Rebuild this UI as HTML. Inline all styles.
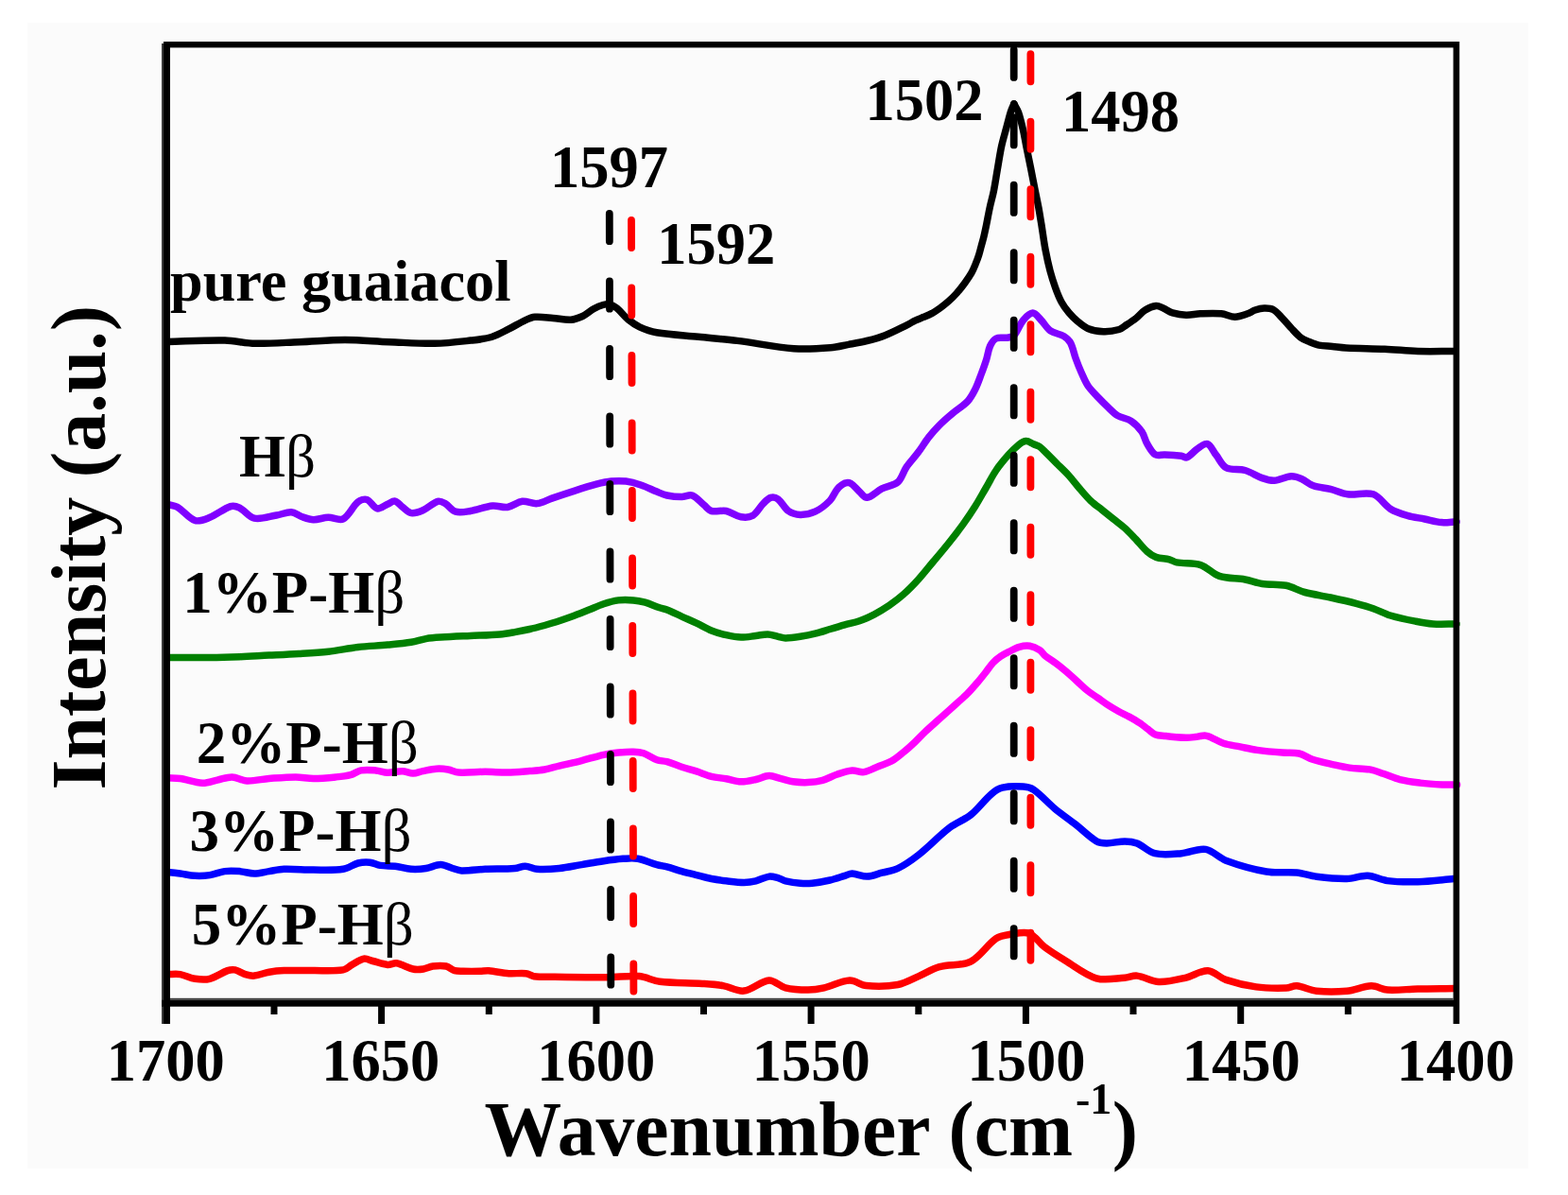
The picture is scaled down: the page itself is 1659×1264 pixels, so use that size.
<!DOCTYPE html>
<html><head><meta charset="utf-8"><style>
html,body{margin:0;padding:0;background:#fff;}
svg{display:block;}
text{font-family:"Liberation Serif","Times New Roman",serif;font-weight:bold;fill:#000;}
.b{font-weight:normal;}
</style></head><body>
<svg width="1659" height="1264" viewBox="0 0 1659 1264">
<rect x="0" y="0" width="1659" height="1264" fill="#fff"/>
<rect x="29" y="24" width="1588" height="1212" fill="#fbfbfb"/>
<g fill="none" stroke-linejoin="round" stroke-linecap="round" stroke-width="7.5">
<path stroke="#000" d="M177,361.5 C197.3,361.0 217.7,359.7 238,360.1 C248.7,360.3 259.3,363.1 270,363.3 C285.6,363.6 301.3,362.3 317,361.7 C333.0,361.1 349.0,359.5 365,359.5 C380.7,359.5 396.3,361.1 412,361.7 C428.0,362.3 444.0,363.6 460,363.3 C472.7,363.1 485.4,361.5 498,360.1 C505.4,359.3 512.9,358.6 520,356.5 C526.3,354.6 532.1,351.1 538,348.2 C544.1,345.2 549.8,341.4 556,338.6 C559.2,337.1 562.6,335.6 566,335.3 C572.2,334.8 578.7,335.9 585,336.4 C591.3,336.9 597.8,338.6 604,338.2 C608.2,337.9 612.5,336.3 616.4,334.5 C620.7,332.4 624.3,328.8 628.5,326.5 C631.5,324.8 634.7,323.4 638,322.5 C640.2,321.9 642.8,321.3 645,321.8 C647.7,322.4 650.4,324.1 652.6,325.9 C657.0,329.5 660.3,334.4 664.7,338 C668.4,341.0 672.4,343.8 676.7,345.8 C682.4,348.4 688.6,350.7 694.8,351.8 C709.3,354.2 724.3,354.8 739,356.3 C752.7,357.7 766.4,358.7 780,360.4 C800.0,362.9 819.9,367.2 840,368.7 C852.8,369.7 865.8,368.8 878.6,367.8 C885.1,367.3 891.5,365.6 897.9,364.4 C904.3,363.2 910.8,362.1 917.1,360.5 C923.6,358.9 930.2,357.2 936.4,354.7 C944.5,351.5 952.2,347.4 960,343.6 C963.0,342.1 965.7,340.2 968.7,338.8 C971.5,337.5 974.5,336.5 977.4,335.3 C980.3,334.1 983.3,332.9 986.1,331.4 C989.1,329.7 992.0,327.7 994.8,325.7 C997.8,323.5 1000.7,321.3 1003.5,318.8 C1006.5,316.1 1009.5,313.2 1012.2,310.1 C1015.3,306.6 1018.2,302.9 1020.9,299.2 C1023.4,295.8 1025.8,292.4 1027.9,288.7 C1029.6,285.7 1030.9,282.4 1032.2,279.2 C1033.5,276.0 1034.7,272.8 1035.7,269.6 C1036.7,266.4 1037.4,263.2 1038.3,260 C1039.2,256.8 1040.1,253.6 1040.9,250.4 C1041.9,246.1 1042.8,241.8 1043.7,237.5 C1044.9,231.6 1045.9,225.6 1047.2,219.7 C1048.5,213.7 1050.2,207.9 1051.4,201.9 C1053.0,194.0 1054.1,186.0 1055.5,178.1 C1056.9,170.2 1058.0,162.2 1059.7,154.4 C1061.0,148.4 1062.8,142.5 1064.4,136.6 C1066.0,130.7 1067.4,124.7 1069.2,118.8 C1070.2,115.7 1071.6,112.8 1072.8,109.8"/>
<path stroke="#000" d="M1072.8,109.8 C1074.4,112.8 1076.4,115.6 1077.5,118.8 C1079.5,124.6 1080.9,130.6 1082.3,136.6 C1083.7,142.5 1084.6,148.5 1085.8,154.4 C1087.4,162.3 1089.0,170.2 1090.6,178.1 C1092.2,186.0 1093.7,194.0 1095.3,201.9 C1096.5,207.8 1097.8,213.7 1098.9,219.7 C1100.0,225.6 1100.9,231.6 1101.9,237.5 C1103.3,246.4 1104.4,255.4 1106.1,264.3 C1107.5,271.7 1109.1,279.1 1111,286.4 C1112.6,292.4 1114.5,298.4 1116.6,304.2 C1118.5,309.5 1120.5,314.8 1123.2,319.7 C1125.3,323.6 1128.1,327.3 1131,330.7 C1133.7,333.9 1136.6,336.9 1139.8,339.6 C1143.3,342.5 1146.8,345.8 1150.9,347.4 C1156.0,349.5 1161.9,350.5 1167.5,350.7 C1173.0,350.9 1178.9,350.0 1184.1,348.5 C1187.0,347.6 1189.4,345.2 1192,343.5 C1195.4,341.3 1198.8,339.1 1202,336.6 C1205.4,333.9 1208.0,330.2 1211.6,328 C1215.1,325.9 1219.3,324.0 1223.2,323.6 C1225.7,323.3 1228.4,325.0 1230.9,326 C1234.2,327.4 1237.1,329.9 1240.5,330.9 C1245.1,332.3 1250.1,333.2 1255,333.3 C1260.0,333.5 1265.0,332.0 1270,331.8 C1277.4,331.5 1284.9,331.1 1292.2,331.8 C1297.1,332.3 1301.8,335.2 1306.6,335.2 C1311.1,335.2 1315.7,333.3 1320.1,331.8 C1322.8,330.9 1325.2,328.9 1327.9,328 C1331.0,327.0 1334.3,326.1 1337.5,326 C1340.7,325.9 1344.4,326.0 1347.1,327.5 C1350.8,329.5 1353.7,333.4 1356.8,336.6 C1360.1,340.0 1363.1,343.8 1366.4,347.3 C1369.5,350.6 1372.5,354.2 1376.1,356.9 C1378.9,359.0 1382.4,360.3 1385.7,361.7 C1388.8,363.0 1392.1,364.4 1395.4,365.1 C1400.1,366.0 1405.0,366.0 1409.8,366.5 C1414.6,367.0 1419.4,367.8 1424.3,368 C1437.8,368.7 1451.4,368.6 1465,369.2 C1476.7,369.7 1488.3,371.1 1500,371.5 C1512.7,371.9 1525.3,371.5 1538,371.5"/>
<path stroke="#8000ff" d="M177,533.5 C180.5,534.4 184.4,534.5 187.5,536.3 C194.2,540.2 199.5,548.3 206.3,550.5 C211.0,552.0 217.1,549.2 222,547.3 C229.6,544.3 236.4,538.1 244,535.6 C246.9,534.7 250.6,535.7 253.4,537.1 C259.0,539.9 263.2,546.9 269,548.1 C276.3,549.6 284.8,546.3 292.6,545 C297.8,544.2 303.1,541.5 308.2,541.8 C312.0,542.0 315.4,545.2 319.2,546.5 C323.3,547.9 327.5,549.6 331.7,549.7 C336.9,549.8 342.1,547.4 347.4,547.3 C352.6,547.2 358.9,551.1 363.1,548.9 C369.4,545.6 372.9,535.7 378.8,530.9 C381.2,528.9 385.5,527.6 388.2,528.5 C392.2,529.9 395.1,537.0 399.1,537.9 C402.4,538.6 406.4,534.7 410.1,533.2 C412.7,532.1 415.6,529.6 418,530.1 C420.8,530.7 423.1,534.3 425.8,536.3 C428.8,538.5 431.6,542.1 435,542.6 C438.9,543.2 443.6,541.4 447.5,539.7 C453.0,537.3 457.8,531.9 463.2,530.3 C465.6,529.6 468.7,531.3 471,532.6 C475.0,534.9 477.8,540.0 482,541.2 C486.7,542.6 492.5,541.3 497.7,540.5 C505.6,539.2 513.3,535.8 521.2,535 C526.4,534.5 531.8,537.3 536.9,536.5 C542.3,535.7 547.2,531.0 552.6,530.3 C557.6,529.7 563.1,533.1 568.2,532.6 C573.6,532.1 578.6,528.9 583.9,527.1 C591.7,524.4 599.5,521.8 607.4,519.3 C615.2,516.8 623.0,514.3 630.9,512.2 C636.1,510.9 641.3,509.6 646.6,509.1 C651.8,508.6 657.1,508.5 662.3,509.1 C667.6,509.8 672.9,511.3 678,513 C683.8,515.0 689.3,517.8 695,520.1 C698.5,521.5 702.0,523.2 705.7,524 C710.8,525.1 716.1,525.6 721.3,525.6 C725.0,525.6 729.1,522.8 732.3,524 C737.0,525.7 740.7,530.8 744.9,534.2 C747.5,536.3 749.6,539.7 752.7,540.5 C757.5,541.8 763.4,539.5 768.4,540.5 C773.8,541.6 778.6,545.8 784,546.7 C788.0,547.4 793.2,547.2 796.6,545.2 C801.1,542.5 803.7,536.5 807.6,532.6 C809.9,530.2 812.5,527.2 815.4,526.3 C817.7,525.6 821.2,526.4 823.2,527.9 C827.4,531.1 829.8,537.4 834.2,540.5 C837.6,542.9 842.5,544.3 846.7,544.4 C851.9,544.5 857.7,543.4 862.4,541.2 C868.2,538.5 873.6,534.1 878.1,529.5 C882.0,525.5 883.5,519.1 887.5,515.4 C890.3,512.8 895.2,510.0 898.5,510.7 C902.5,511.6 905.7,517.0 909.4,520.1 C912.0,522.2 914.5,526.7 917.3,526.3 C922.4,525.6 927.6,519.6 933,516.9 C938.5,514.2 945.6,513.7 950,509.9 C954.3,506.1 955.6,499.1 959,494.1 C962.8,488.6 967.6,483.7 971.6,478.3 C975.5,473.1 978.7,467.5 982.7,462.4 C986.1,458.0 989.8,453.8 993.8,449.8 C998.3,445.3 1003.1,441.2 1008,437.1 C1013.2,432.7 1019.3,429.3 1023.9,424.4 C1027.2,420.8 1029.6,416.2 1031.8,411.8 C1034.3,406.7 1036.1,401.3 1038.1,396 C1040.1,390.7 1042.0,385.5 1043.7,380.1 C1045.2,375.4 1045.6,370.3 1047.6,365.9 C1049.0,362.9 1051.2,359.4 1054,358 C1057.0,356.5 1061.4,357.8 1065,357.2 C1067.7,356.7 1071.1,356.7 1072.9,354.8 C1076.9,350.6 1078.5,343.6 1082.4,339 C1085.1,335.7 1089.3,331.2 1092.7,331.1 C1095.7,331.0 1098.7,335.8 1101.4,338.5 C1105.0,342.1 1107.4,347.1 1111.4,349.9 C1115.5,352.8 1121.3,353.0 1125.6,355.6 C1128.4,357.3 1131.2,359.8 1132.7,362.7 C1135.4,367.9 1136.3,374.2 1138.4,379.8 C1140.1,384.6 1142.0,389.4 1144.1,394 C1146.3,398.9 1148.3,403.9 1151.2,408.3 C1154.0,412.4 1157.8,415.9 1161.2,419.6 C1164.9,423.5 1168.7,427.3 1172.6,431 C1175.8,434.0 1178.8,437.4 1182.5,439.6 C1186.9,442.2 1192.6,442.5 1196.8,445.3 C1201.2,448.2 1205.1,452.4 1208.1,456.7 C1210.7,460.5 1211.4,465.5 1213.8,469.5 C1216.2,473.6 1218.8,478.7 1222.4,480.9 C1224.9,482.5 1229.0,480.7 1232.3,480.9 C1238.2,481.2 1244.1,481.6 1250,482.3 C1252.0,482.6 1254.1,484.6 1255.8,483.9 C1259.7,482.2 1262.8,477.5 1266.7,474.9 C1270.0,472.7 1274.5,468.6 1277.5,469.5 C1281.2,470.7 1283.5,477.3 1286.6,481.2 C1290.2,485.7 1292.7,492.3 1297.4,494.8 C1302.9,497.7 1310.9,495.7 1317.3,497.5 C1323.6,499.3 1329.2,503.4 1335.4,505.6 C1339.5,507.0 1343.9,508.5 1348.1,508.3 C1354.2,507.9 1360.2,504.2 1366.2,503.8 C1369.8,503.6 1373.6,505.1 1377,506.5 C1381.5,508.4 1385.2,512.2 1389.7,513.8 C1395.4,515.8 1401.8,515.9 1407.7,517.4 C1413.8,518.9 1419.6,522.1 1425.8,522.8 C1434.7,523.9 1444.9,520.1 1453,522.8 C1460.0,525.2 1464.4,534.1 1471,538.2 C1476.4,541.6 1482.9,543.6 1489.1,545.4 C1495.0,547.2 1501.2,547.8 1507.2,549 C1513.2,550.2 1519.2,552.1 1525.3,552.6 C1530.5,553.0 1535.8,552.0 1541,551.7"/>
<path stroke="#008000" d="M177,695.5 C192.0,695.5 207.0,695.7 222,695.5 C232.5,695.4 242.9,695.1 253.4,694.7 C263.8,694.3 274.3,693.6 284.7,693.1 C295.2,692.6 305.6,692.2 316.1,691.5 C326.5,690.9 337.0,690.4 347.4,689.2 C357.9,688.0 368.3,685.7 378.8,684.5 C389.2,683.3 399.7,683.1 410.1,682.1 C418.4,681.3 426.8,680.6 435,679.3 C440.3,678.5 445.4,676.5 450.7,675.6 C455.8,674.7 461.1,674.4 466.3,674.1 C476.8,673.4 487.2,673.0 497.7,672.5 C508.1,672.0 518.6,671.8 529,670.9 C534.3,670.5 539.5,669.5 544.7,668.6 C550.0,667.7 555.2,666.7 560.4,665.5 C565.7,664.3 570.9,662.9 576.1,661.5 C581.3,660.0 586.5,658.5 591.7,656.8 C597.0,655.1 602.2,653.2 607.4,651.3 C612.7,649.3 617.9,647.2 623.1,645.1 C628.3,643.0 633.5,640.5 638.8,638.8 C643.9,637.1 649.1,635.6 654.4,634.9 C659.6,634.3 664.9,634.5 670.1,634.9 C674.3,635.2 678.5,636.1 682.6,637.2 C687.5,638.6 692.2,640.8 697,642.5 C699.9,643.5 702.9,644.0 705.7,645.1 C711.0,647.2 716.1,649.8 721.3,652.1 C726.5,654.5 731.8,656.7 737,659.2 C742.3,661.7 747.3,664.8 752.7,667 C757.8,669.0 763.1,670.5 768.4,671.7 C773.5,672.9 778.8,674.0 784,674.1 C789.2,674.2 794.5,673.1 799.7,672.5 C803.9,672.0 808.1,670.8 812.3,670.9 C816.0,671.0 819.6,672.5 823.2,673.3 C825.8,673.9 828.4,674.9 831.1,674.9 C836.3,674.9 841.5,674.1 846.7,673.3 C852.0,672.5 857.2,671.5 862.4,670.2 C867.7,668.9 872.9,667.1 878.1,665.5 C883.3,663.9 888.5,662.3 893.8,660.8 C899.0,659.4 904.4,658.6 909.4,656.8 C914.8,654.9 920.0,652.4 925.1,649.8 C930.5,647.0 935.8,643.8 940.8,640.4 C946.0,636.8 951.1,633.0 955.8,628.8 C961.4,623.9 966.6,618.5 971.6,613 C977.2,606.9 982.2,600.3 987.5,594 C992.8,587.7 998.2,581.4 1003.3,575 C1008.7,568.2 1014.0,561.4 1019.1,554.4 C1023.5,548.2 1027.8,541.9 1031.8,535.5 C1035.7,529.3 1039.2,522.8 1042.9,516.5 C1046.6,510.2 1049.8,503.5 1053.9,497.5 C1057.7,491.9 1062.1,486.7 1066.6,481.6 C1070.0,477.7 1073.7,473.8 1077.7,470.6 C1080.0,468.8 1082.9,466.7 1085.6,466.6 C1088.2,466.5 1090.9,468.7 1093.5,469.8 C1095.7,470.7 1098.1,471.2 1100,472.5 C1102.6,474.3 1104.6,476.8 1106.9,479 C1110.9,482.9 1114.8,486.9 1118.7,490.9 C1122.7,494.8 1126.8,498.6 1130.6,502.7 C1134.8,507.3 1138.4,512.3 1142.5,517 C1146.3,521.4 1150.1,526.0 1154.3,530 C1158.0,533.5 1162.2,536.3 1166.2,539.5 C1170.2,542.7 1174.1,545.8 1178.1,549 C1182.1,552.2 1186.2,555.1 1190,558.5 C1194.1,562.2 1197.9,566.4 1201.8,570.4 C1205.8,574.7 1209.3,579.5 1213.7,583.4 C1216.5,585.9 1219.7,588.2 1223.2,589.4 C1227.6,591.0 1232.8,590.6 1237.4,591.8 C1240.0,592.5 1242.3,594.4 1245,594.9 C1253.3,596.4 1262.4,595.1 1270.3,597.6 C1277.5,599.9 1283.0,607.0 1290.2,609.4 C1298.7,612.2 1308.3,611.4 1317.3,613 C1323.4,614.1 1329.3,616.6 1335.4,617.5 C1343.7,618.7 1352.5,617.7 1360.7,619.3 C1367.6,620.7 1373.8,624.7 1380.6,626.5 C1389.5,628.9 1398.7,630.0 1407.7,632 C1416.8,634.0 1425.9,636.0 1434.9,638.3 C1441.0,639.9 1447.1,641.6 1453,643.7 C1459.1,645.8 1464.8,649.1 1471,651 C1479.9,653.7 1489.1,655.5 1498.2,657.3 C1504.1,658.5 1510.2,659.6 1516.2,660 C1524.4,660.5 1532.7,660.0 1541,660"/>
<path stroke="#ff00ff" d="M177,822.7 C181.6,823.0 186.2,822.8 190.7,823.5 C198.6,824.7 206.4,827.9 214.2,828.2 C219.4,828.4 224.7,826.2 229.9,825.1 C235.1,824.1 240.3,821.8 245.5,821.9 C250.8,822.0 255.9,825.7 261.2,825.9 C269.0,826.2 276.9,824.1 284.7,823.5 C294.1,822.8 303.5,821.9 312.9,821.9 C319.2,821.9 325.4,823.5 331.7,823.5 C339.6,823.5 347.5,822.7 355.3,821.9 C360.5,821.4 365.9,820.9 370.9,819.6 C374.7,818.6 378.1,815.6 381.9,814.9 C387.0,814.0 392.4,814.5 397.6,814.9 C401.8,815.2 405.9,817.1 410.1,817.2 C415.3,817.3 420.6,815.5 425.8,815.7 C429.6,815.8 433.3,818.0 437,818 C440.5,818.0 444.0,816.3 447.5,815.6 C452.2,814.7 456.9,813.5 461.6,813.2 C465.8,812.9 470.1,813.3 474.2,814 C477.9,814.6 481.4,816.9 485.2,817.1 C494.5,817.6 504.0,816.3 513.4,816.3 C521.2,816.3 529.1,817.2 536.9,817.1 C544.7,817.0 552.6,816.2 560.4,815.6 C565.6,815.2 570.9,814.9 576.1,814 C581.4,813.1 586.5,811.3 591.7,810.1 C599.6,808.2 607.5,806.6 615.3,804.6 C623.2,802.6 630.9,800.0 638.8,798.3 C643.9,797.2 649.2,796.5 654.4,796 C659.6,795.5 664.9,795.0 670.1,795.2 C673.8,795.3 677.6,795.6 681.1,796.8 C685.9,798.5 690.2,802.1 695,803.8 C698.4,805.0 702.2,804.7 705.7,805.7 C711.0,807.2 716.1,809.5 721.3,811.2 C726.5,812.9 731.8,814.2 737,815.9 C742.3,817.6 747.4,820.0 752.7,821.3 C757.8,822.6 763.2,822.8 768.4,823.7 C773.6,824.6 778.8,826.7 784,826.8 C789.2,826.9 794.5,825.6 799.7,824.5 C804.5,823.5 809.1,820.7 813.8,820.6 C818.0,820.5 822.2,822.7 826.4,823.7 C830.6,824.7 834.7,826.2 838.9,826.8 C844.1,827.5 849.4,827.8 854.6,827.6 C859.9,827.3 865.2,826.7 870.3,825.3 C875.7,823.8 880.6,820.7 885.9,819 C891.0,817.3 896.3,815.5 901.6,815.1 C905.7,814.7 910.1,817.3 914.1,816.6 C919.5,815.7 924.6,812.5 929.8,810.4 C934.3,808.6 939.1,807.5 943.3,805.1 C948.1,802.4 952.3,798.6 956.6,795.1 C960.4,792.0 964.1,788.6 967.7,785.2 C971.5,781.6 975.0,777.7 978.8,774.1 C982.4,770.7 986.1,767.4 989.8,764.1 C993.5,760.8 997.2,757.5 1000.9,754.2 C1004.6,750.9 1008.3,747.5 1012,744.2 C1015.7,740.9 1019.6,737.7 1023.1,734.2 C1027.0,730.3 1030.5,726.2 1034.1,722 C1037.2,718.4 1040.1,714.7 1043,711 C1045.6,707.7 1047.8,704.1 1050.7,701 C1053.0,698.5 1055.7,696.3 1058.5,694.4 C1061.3,692.5 1064.4,690.9 1067.4,689.4 C1071.0,687.6 1074.6,685.5 1078.4,684.4 C1081.9,683.4 1085.9,682.8 1089.5,683.3 C1093.1,683.9 1096.9,685.7 1100,687.7 C1102.4,689.2 1103.9,692.0 1106.1,693.8 C1109.6,696.6 1113.5,698.9 1117.1,701.6 C1120.9,704.4 1124.6,707.4 1128.2,710.4 C1132.0,713.6 1135.6,717.1 1139.3,720.4 C1143.0,723.7 1146.5,727.3 1150.4,730.4 C1153.9,733.2 1157.7,735.5 1161.4,738.1 C1165.1,740.7 1168.7,743.4 1172.5,745.9 C1176.1,748.2 1179.8,750.4 1183.6,752.5 C1187.2,754.5 1191.1,756.1 1194.7,758.1 C1198.4,760.2 1202.1,762.3 1205.7,764.7 C1208.8,766.7 1211.6,769.1 1214.6,771.3 C1217.2,773.2 1219.5,775.8 1222.4,776.9 C1225.8,778.2 1229.7,778.0 1233.4,778.5 C1237.1,779.0 1240.8,779.4 1244.5,779.7 C1248.0,780.0 1251.5,780.2 1255,780.2 C1258.1,780.2 1261.1,779.9 1264.2,779.6 C1268.4,779.2 1272.7,777.4 1276.7,778.3 C1282.8,779.7 1288.4,784.3 1294.5,786.3 C1300.2,788.2 1306.3,788.7 1312.2,789.9 C1318.1,791.1 1324.0,792.6 1330,793.4 C1338.9,794.6 1347.8,795.4 1356.7,796.1 C1362.6,796.6 1368.8,795.7 1374.5,797 C1379.5,798.1 1383.8,801.6 1388.7,803.2 C1395.6,805.5 1402.9,807.0 1410,808.6 C1415.9,809.9 1421.8,811.3 1427.8,812.1 C1434.9,813.1 1442.1,812.7 1449.1,813.9 C1454.0,814.8 1458.7,816.7 1463.4,818.3 C1469.4,820.3 1475.1,823.1 1481.2,824.6 C1488.2,826.3 1495.4,827.2 1502.5,828.1 C1510.2,829.0 1517.9,829.5 1525.6,829.9 C1530.9,830.1 1536.3,829.9 1541.6,829.9"/>
<path stroke="#0000ff" d="M177,922.4 C181.6,922.9 186.1,923.4 190.7,924 C195.9,924.7 201.1,926.0 206.3,926.3 C211.5,926.6 216.8,926.4 222,925.6 C227.3,924.8 232.4,922.3 237.7,921.6 C242.9,920.9 248.2,921.2 253.4,921.6 C258.6,922.0 263.8,924.0 269,924 C274.2,924.0 279.5,922.4 284.7,921.6 C289.9,920.8 295.1,919.5 300.4,919.3 C310.8,919.0 321.3,920.1 331.7,920.1 C342.2,920.1 352.9,920.8 363.1,919.3 C368.6,918.5 373.4,914.4 378.8,913 C382.8,912.0 387.2,911.8 391.3,912.2 C395.0,912.6 398.5,914.8 402.3,915.4 C407.4,916.2 412.8,915.6 418,916.2 C423.7,916.9 429.3,918.9 435,919.3 C440.2,919.7 445.5,919.3 450.7,918.5 C456.0,917.7 461.1,914.6 466.3,914.6 C470.5,914.6 474.7,917.3 478.9,918.5 C482.0,919.4 485.1,920.8 488.3,920.9 C496.6,921.1 505.0,919.7 513.4,919.3 C523.8,918.9 534.3,919.3 544.7,918.5 C548.4,918.2 552.0,916.1 555.7,916.2 C559.9,916.3 564.0,919.0 568.2,919.3 C576.0,919.8 583.9,919.3 591.7,918.5 C599.6,917.7 607.4,915.9 615.3,914.6 C623.1,913.3 630.9,911.8 638.8,910.7 C645.5,909.7 652.3,908.8 659.1,908.3 C664.3,908.0 669.7,907.4 674.8,908.3 C681.7,909.5 688.2,912.7 695,914.6 C698.5,915.6 702.2,916.0 705.7,916.9 C710.9,918.3 716.1,920.1 721.3,921.6 C726.5,923.0 731.8,924.3 737,925.6 C742.2,926.9 747.4,928.5 752.7,929.5 C757.9,930.5 763.1,931.2 768.4,931.8 C774.6,932.5 780.9,933.4 787.2,933.4 C791.4,933.4 795.6,932.8 799.7,931.8 C804.5,930.7 809.0,927.7 813.8,927.1 C816.9,926.7 820.1,927.9 823.2,928.7 C825.9,929.4 828.4,931.2 831.1,931.8 C836.2,933.0 841.5,933.8 846.7,934.2 C850.9,934.6 855.1,934.6 859.3,934.2 C865.6,933.6 871.9,932.4 878.1,931 C883.4,929.8 888.6,927.9 893.8,926.3 C896.4,925.5 899.0,923.9 901.6,924 C906.8,924.2 912.1,927.2 917.3,927.1 C922.6,927.0 927.8,924.6 933,923.2 C938.7,921.7 944.8,921.1 950,918.5 C957.8,914.7 965.1,909.5 972,904.1 C983.5,895.1 993.4,884.1 1005,875.3 C1011.8,870.1 1020.4,867.3 1027,862 C1035.0,855.5 1041.2,846.5 1049,839.8 C1052.3,836.9 1056.3,834.2 1060.5,833.2 C1067.5,831.6 1075.4,831.6 1082.7,832.1 C1086.5,832.3 1090.6,833.3 1093.7,835.4 C1101.7,841.0 1108.3,849.0 1116,855.3 C1123.1,861.2 1130.7,866.3 1138,872 C1145.4,877.8 1152.1,885.0 1160,889.7 C1163.1,891.6 1167.3,891.9 1171,891.9 C1177.3,891.9 1183.7,889.9 1190,889.9 C1194.4,889.9 1199.0,890.4 1203,892 C1209.7,894.7 1215.1,901.1 1222,902.7 C1230.8,904.7 1240.7,903.4 1250,902.7 C1258.6,902.0 1267.5,897.1 1275.6,898.4 C1283.2,899.6 1289.4,907.4 1297,910.2 C1310.9,915.3 1325.4,919.5 1340,922 C1350.4,923.8 1361.4,921.9 1372,923 C1379.1,923.7 1385.9,926.4 1393,927.3 C1403.6,928.6 1414.4,929.7 1425,929.5 C1432.4,929.4 1439.7,925.9 1447,926.3 C1454.1,926.6 1460.9,930.7 1468,931.6 C1478.5,932.9 1489.4,933.0 1500,932.7 C1512.7,932.3 1525.3,930.6 1538,929.5"/>
<path stroke="#ff0000" d="M177,1030.6 C181.6,1030.6 186.2,1029.9 190.7,1030.6 C196.0,1031.5 201.0,1034.5 206.3,1035.3 C211.4,1036.1 217.0,1036.6 222,1035.3 C228.5,1033.7 234.4,1028.9 240.8,1026.6 C243.3,1025.7 246.2,1025.4 248.7,1025.9 C252.5,1026.7 255.8,1029.5 259.6,1030.6 C262.6,1031.5 265.9,1032.4 269,1032.1 C274.3,1031.6 279.4,1029.1 284.7,1028.2 C289.9,1027.3 295.1,1026.8 300.4,1026.6 C310.8,1026.2 321.3,1026.7 331.7,1026.6 C342.2,1026.5 353.0,1027.4 363.1,1025.9 C366.6,1025.4 369.3,1022.1 372.5,1020.4 C376.6,1018.2 380.7,1014.9 385,1014.1 C388.0,1013.6 391.3,1015.7 394.4,1016.5 C399.6,1017.8 404.8,1019.9 410.1,1020.4 C413.2,1020.7 416.5,1018.3 419.5,1018.8 C425.4,1019.8 431.0,1023.7 437,1025 C440.5,1025.8 444.4,1025.5 448,1025 C451.4,1024.5 454.6,1022.4 458,1022 C462.6,1021.4 467.6,1021.1 472,1022 C475.2,1022.7 477.8,1025.8 481,1026.7 C483.8,1027.5 487.0,1027.2 490,1027.3 C496.0,1027.4 502.0,1027.4 508,1027.3 C511.0,1027.2 514.0,1026.6 517,1026.8 C524.2,1027.4 531.3,1029.2 538.5,1029.7 C544.5,1030.1 550.7,1029.0 556.6,1029.7 C559.5,1030.0 562.1,1032.4 565,1032.7 C572.2,1033.6 579.7,1033.2 587,1033.3 C605.7,1033.5 624.3,1033.8 643,1033.7 C654.0,1033.6 665.1,1031.7 676,1032.6 C683.5,1033.2 690.5,1037.3 698,1038.2 C712.9,1039.9 728.0,1039.4 743,1040.4 C750.4,1040.9 757.8,1041.3 765,1042.6 C772.4,1043.9 779.9,1048.9 787,1048.1 C796.1,1047.1 804.8,1037.7 813.6,1037 C819.4,1036.6 824.9,1043.3 831,1044.8 C838.7,1046.7 847.0,1047.0 855,1047 C860.7,1047.0 866.4,1046.1 872,1044.8 C881.1,1042.7 890.0,1037.4 899,1037 C904.9,1036.7 910.5,1042.1 916.5,1042.6 C927.5,1043.6 939.2,1043.5 950,1041.5 C957.7,1040.1 964.7,1035.7 972,1032.6 C979.4,1029.4 986.3,1024.8 994,1022.6 C1004.6,1019.6 1017.4,1021.9 1027,1017.1 C1037.4,1011.9 1044.2,999.4 1054,992.7 C1058.2,989.8 1063.9,989.1 1069,988.3 C1075.6,987.3 1083.2,985.1 1089,987.2 C1095.2,989.5 1099.3,997.3 1105,1001.6 C1112.0,1006.9 1119.5,1011.5 1127,1016 C1137.8,1022.5 1148.3,1031.4 1160,1034.8 C1169.3,1037.5 1180.0,1034.9 1190,1034.3 C1194.4,1034.0 1198.7,1031.6 1203,1032.1 C1210.7,1033.0 1218.2,1038.2 1226,1038.5 C1235.2,1038.9 1244.8,1036.4 1254,1034.3 C1262.2,1032.5 1270.2,1026.4 1278,1026.8 C1284.6,1027.1 1290.3,1034.2 1297,1036.4 C1307.3,1039.9 1318.2,1042.4 1329,1043.9 C1339.5,1045.3 1350.4,1045.3 1361,1045 C1364.7,1044.9 1368.4,1042.4 1372,1042.8 C1379.0,1043.5 1385.9,1047.5 1393,1048.2 C1403.5,1049.3 1414.4,1049.2 1425,1048.2 C1433.8,1047.4 1442.4,1043.0 1451,1042.8 C1456.7,1042.7 1462.2,1046.7 1468,1047.1 C1478.6,1047.8 1489.3,1046.2 1500,1046 C1513.3,1045.7 1526.7,1045.7 1540,1045.5"/>
</g>
<g fill="none" stroke-width="7.8" stroke-linecap="round" stroke-dasharray="29.2 42.3">
<line x1="644.8" y1="226" x2="646.3" y2="1043" stroke="#000"/>
<line x1="668" y1="232.9" x2="670.4" y2="1052" stroke="#f00"/>
<line x1="1072.7" y1="52.7" x2="1072.7" y2="1013" stroke="#000"/>
<line x1="1090.4" y1="57.1" x2="1090.4" y2="1018" stroke="#f00"/>
</g>
<!-- frame -->
<rect x="173" y="44" width="7" height="1039" fill="#000"/>
<rect x="171" y="46" width="2" height="1037" fill="#3a3a3a"/>
<rect x="173" y="44" width="1371" height="6.4" fill="#000"/>
<rect x="1537.6" y="44" width="6.6" height="1039" fill="#000"/>
<rect x="171" y="1057.8" width="1373" height="6.9" fill="#000"/>
<rect x="180" y="1055.8" width="1357.6" height="2" fill="#3a3a3a"/>
<g stroke="#000" stroke-width="7">
<line x1="290.0" y1="1060" x2="290.0" y2="1073" />
<line x1="403.6" y1="1060" x2="403.6" y2="1083" />
<line x1="517.3" y1="1060" x2="517.3" y2="1073" />
<line x1="630.9" y1="1060" x2="630.9" y2="1083" />
<line x1="744.5" y1="1060" x2="744.5" y2="1073" />
<line x1="858.1" y1="1060" x2="858.1" y2="1083" />
<line x1="971.8" y1="1060" x2="971.8" y2="1073" />
<line x1="1085.4" y1="1060" x2="1085.4" y2="1083" />
<line x1="1199.0" y1="1060" x2="1199.0" y2="1073" />
<line x1="1312.7" y1="1060" x2="1312.7" y2="1083" />
<line x1="1426.3" y1="1060" x2="1426.3" y2="1073" />
</g>
<g font-size="62.5">
<text x="175.2" y="1143" text-anchor="middle">1700</text>
<text x="402.8" y="1143" text-anchor="middle">1650</text>
<text x="630.7" y="1143" text-anchor="middle">1600</text>
<text x="858.2" y="1143" text-anchor="middle">1550</text>
<text x="1086.1" y="1143" text-anchor="middle">1500</text>
<text x="1313.2" y="1143" text-anchor="middle">1450</text>
<text x="1540.3" y="1143" text-anchor="middle">1400</text>

<text x="581.9" y="198.2">1597</text>
<text x="695.3" y="278.9">1592</text>
<text x="915.6" y="126.8">1502</text>
<text x="1122.9" y="138.7">1498</text>
</g>
<text font-size="62.3" x="180" y="318.3">pure guaiacol</text>
<g font-size="63">
<text x="252.9" y="504">H<tspan class="b">β</tspan></text>
<text x="193.3" y="647.5">1%P-H<tspan class="b">β</tspan></text>
<text x="207.8" y="806.7">2%P-H<tspan class="b">β</tspan></text>
<text x="200.6" y="900.3">3%P-H<tspan class="b">β</tspan></text>
<text x="202.7" y="999">5%P-H<tspan class="b">β</tspan></text>
</g>
<text font-size="81.7" x="512.5" y="1221.6">Wavenumber (cm</text>
<text font-size="46" x="1137.9" y="1177.5">-1</text>
<text font-size="81.7" x="1176.8" y="1221.6">)</text>
<text font-size="82" transform="translate(111,835.5) rotate(-90)" x="0" y="0">Intensity (a.u.)</text>
</svg>
</body></html>
